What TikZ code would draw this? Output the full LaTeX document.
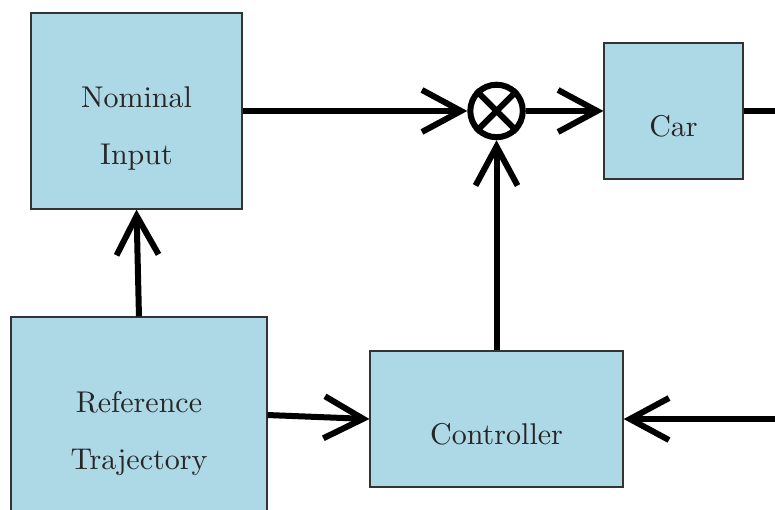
\documentclass[tikz,border=0pt]{standalone}
\usepackage{tikz}
\usetikzlibrary{arrows.meta}
\definecolor{blocksky}{RGB}{173,216,230}
\tikzset{
  blockbox/.style={draw=black!80,fill=blocksky,line width=0.4pt,align=center,
    font=\normalsize,text=black!85,text depth=0pt},
  sumnode/.style={circle,draw,line width=2pt,minimum size=17.5pt,inner sep=0pt},
  flowarrow/.style={-{Straight Barb[length=13pt,width=14pt]},line width=2pt},
  flowline/.style={line width=2pt}
}

\begin{document}
\begin{tikzpicture}[x=1cm,y=1cm]
  \useasboundingbox (0,0) rectangle (9.079,-5.963);
  % blocks of the loop
  \node[blockbox,minimum width=2.472cm,minimum height=2.296cm,text height=36pt]
    (nominal) at (1.599,-1.300) {Nominal\\[7pt]Input};
  \node[blockbox,minimum width=2.999cm,minimum height=2.296cm,text height=36pt]
    (reftraj) at (1.628,-4.862) {Reference\\[7pt]Trajectory};
  \node[blockbox,minimum width=2.964cm,minimum height=1.593cm,text height=17pt]
    (controller) at (5.817,-4.909) {Controller};
  \node[blockbox,minimum width=1.628cm,minimum height=1.593cm,text height=17pt]
    (car) at (7.890,-1.300) {Car};
  \node[sumnode] (sum) at (5.817,-1.300) {};
  \draw[line width=2pt] (sum.north east) -- (sum.south west)
    (sum.north west) -- (sum.south east);

  % loose ends at the right border
  \coordinate (carout) at (9.079,-1.300);
  \coordinate (feedback) at (9.079,-4.909);

  % signal flow
  \draw[flowarrow] (nominal.east) -- (sum.west);
  \draw[flowarrow] (sum.east) -- (car.west);
  \draw[flowarrow] (controller.north) -- (sum.south);
  \draw[flowarrow] (reftraj.north) -- (nominal.south);
  \draw[flowarrow] (reftraj.east) -- (controller.west);
  \draw[flowline] (car.east) -- (carout);
  \draw[flowarrow] (feedback) -- (controller.east);
\end{tikzpicture}
\end{document}
